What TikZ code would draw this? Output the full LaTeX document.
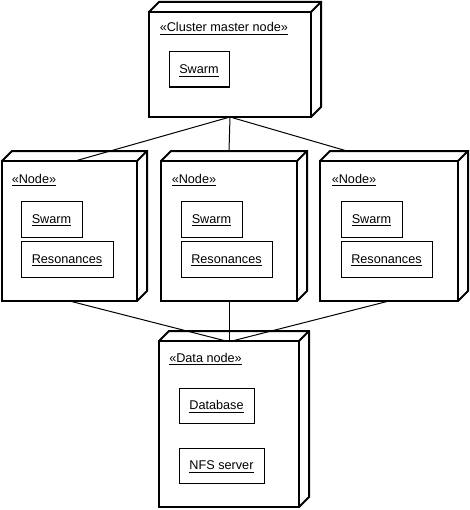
\documentclass[tikz,border=0pt]{standalone}
\usepackage{fontspec}
\setmainfont{Liberation Sans}
\usetikzlibrary{fit,calc}
\begin{document}
\begin{tikzpicture}[x=0.75pt,y=-0.75pt,
  outerbox/.style={draw, line width=1.5pt, inner sep=0pt, outer sep=0pt},
  depthln/.style={line width=1.5pt},
  innerbox/.style={draw, line width=0.75pt, inner sep=0pt, outer sep=0pt},
  conn/.style={line width=0.75pt},
  lbl/.style={anchor=base west, inner sep=0pt, font=\fontsize{9.5}{11}\selectfont},
  itxt/.style={anchor=base, inner sep=0pt, font=\fontsize{9.5}{11}\selectfont}]
\newcommand\depthbox[1]{\draw[depthln] (#1.north west) -- ++(10,-10) -- ($(#1.north east)+(10,-10)$) -- ($(#1.south east)+(10,-10)$) -- (#1.south east) (#1.north east) -- ++(10,-10);}
\newcommand\innerlbl[2]{\node[itxt] at ($(#1.center)+(0,4.3)$) {\underline{#2}};}
\useasboundingbox (0,0) rectangle (469,510);

% outer nodes
\node[outerbox, fit={(149,12)(311,117)}] (master) {};
\node[outerbox, fit={(2,161)(137,301)}] (left) {};
\node[outerbox, fit={(161,161)(297,301)}] (mid) {};
\node[outerbox, fit={(320,161)(458,301)}] (right) {};
\node[outerbox, fit={(159,341)(299,507)}] (data) {};
\depthbox{master}
\depthbox{left}
\depthbox{mid}
\depthbox{right}
\depthbox{data}

% stereotype labels
\node[lbl] (mlbl) at (159.5,32) {\underline{«Cluster master node»}};
\node[lbl] (llbl) at (11.5,183) {\underline{«Node»}};
\node[lbl] (mdlbl) at (171.5,183) {\underline{«Node»}};
\node[lbl] (rlbl) at (331.5,183) {\underline{«Node»}};
\node[lbl] (dlbl) at (169,362) {\underline{«Data node»}};

% inner components
\node[innerbox, fit={(169,52)(229,87)}] (msw) {};
\innerlbl{msw}{Swarm}
\node[innerbox, fit={(21,201)(82,237)}] (lsw) {};
\innerlbl{lsw}{Swarm}
\node[innerbox, fit={(21,241)(113,277)}] (lres) {};
\innerlbl{lres}{Resonances}
\node[innerbox, fit={(181,201)(242,237)}] (mdsw) {};
\innerlbl{mdsw}{Swarm}
\node[innerbox, fit={(181,241)(272,277)}] (mdres) {};
\innerlbl{mdres}{Resonances}
\node[innerbox, fit={(341,201)(402,237)}] (rsw) {};
\innerlbl{rsw}{Swarm}
\node[innerbox, fit={(341,241)(432,277)}] (rres) {};
\innerlbl{rres}{Resonances}
\node[innerbox, fit={(179,388)(254,423)}] (db) {};
\innerlbl{db}{Database}
\node[innerbox, fit={(179,448)(264,483)}] (nfs) {};
\innerlbl{nfs}{NFS server}

% connectors
\coordinate (lt) at ($(left.north)+(5.5,0)$);
\coordinate (mt) at ($(mid.north)+(0,-10)$);
\coordinate (rt) at ($(right.north west)+(27,-10)$);
\coordinate (dl) at ($(data.north)+(-3,0)$);
\coordinate (dr) at ($(data.north)+(3,0)$);
\draw[conn] (master.south) -- (lt);
\draw[conn] (master.south) -- (mt);
\draw[conn] (master.south) -- (rt);
\draw[conn] (left.south) -- (dl);
\draw[conn] (mid.south) -- (data.north);
\draw[conn] (right.south) -- (dr);
\end{tikzpicture}
\end{document}
